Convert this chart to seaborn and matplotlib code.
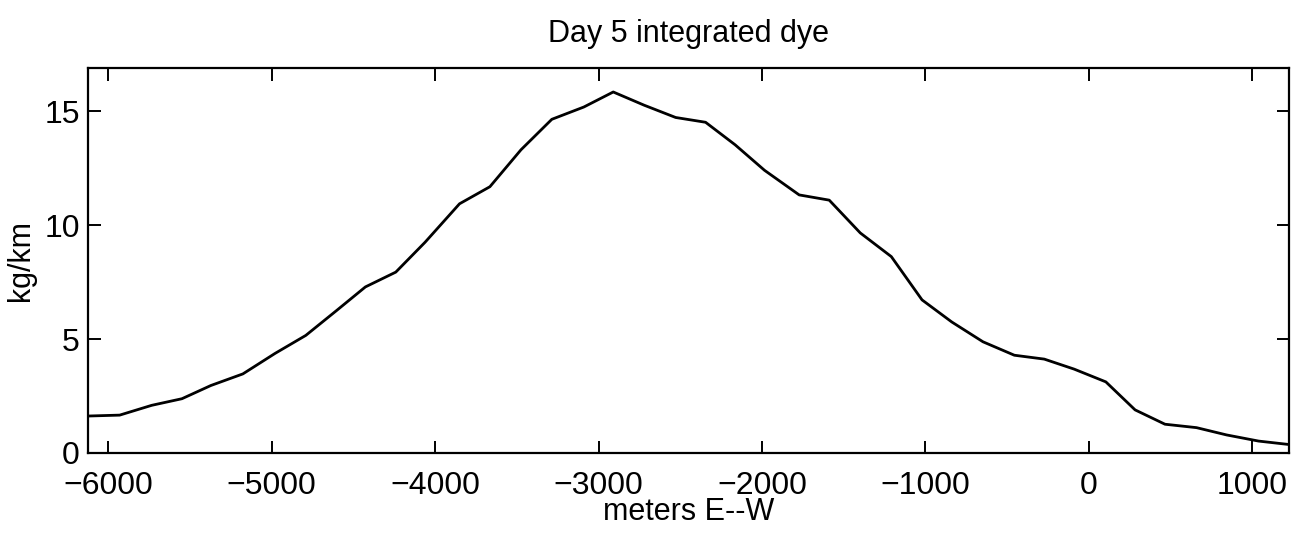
import matplotlib
matplotlib.use("Agg")
import matplotlib.pyplot as plt
import seaborn as sns
import pandas as pd

# Data
distance_m = [-6125, -5931, -5735, -5550, -5373, -5177, -4980, -4792, -4604, -4427,
              -4241, -4062, -3851, -3665, -3475, -3286, -3090, -2910, -2721, -2528,
              -2345, -2164, -1984, -1772, -1588, -1398, -1208, -1020, -838, -647,
              -455, -272, -89, 105, 284, 467, 660, 844, 1040, 1225]
dye_kg_per_km = [1.62, 1.66, 2.09, 2.38, 2.96, 3.47, 4.37, 5.16, 6.25, 7.29,
                 7.94, 9.25, 10.94, 11.69, 13.31, 14.65, 15.19, 15.85, 15.27, 14.73,
                 14.52, 13.53, 12.41, 11.33, 11.10, 9.66, 8.62, 6.72, 5.75, 4.88,
                 4.29, 4.12, 3.68, 3.12, 1.89, 1.26, 1.11, 0.79, 0.52, 0.37]
x_ticks = [-6000, -5000, -4000, -3000, -2000, -1000, 0, 1000]
y_ticks = [0, 5, 10, 15]

df = pd.DataFrame({"x": distance_m, "y": dye_kg_per_km})

sns.set_theme(style="ticks")
plt.rcParams["font.family"] = ["Liberation Sans", "DejaVu Sans"]
plt.rcParams["text.color"] = "black"
plt.rcParams["axes.labelcolor"] = "black"

fig = plt.figure(figsize=(12.94, 5.36), dpi=100)
ax = fig.add_axes([0.068, 0.155, 0.928, 0.718])

sns.lineplot(data=df, x="x", y="y", ax=ax, color="black", linewidth=2.0)

ax.set_xlim(min(distance_m), max(distance_m))
ax.set_ylim(0, 16.9)
ax.set_xticks(x_ticks)
ax.set_xticklabels(["\u2212" + str(abs(t)) if t < 0 else str(t) for t in x_ticks])
ax.set_yticks(y_ticks)

for s in ax.spines.values():
    s.set_visible(True)
    s.set_linewidth(1.6)
    s.set_color("black")

ax.tick_params(axis="both", which="major", direction="in", length=9, width=1.4,
               labelsize=23, colors="black", top=True, right=True)
ax.tick_params(axis="x", pad=13)
ax.tick_params(axis="y", pad=6)

ax.set_xlabel("meters E--W", fontsize=22, labelpad=-3, color="black")
ax.set_ylabel("kg/km", fontsize=22, labelpad=6, color="black")
ax.set_title("Day 5 integrated dye", fontsize=22, pad=19, color="black")

fig.savefig("out.png", dpi=100, facecolor="white")
